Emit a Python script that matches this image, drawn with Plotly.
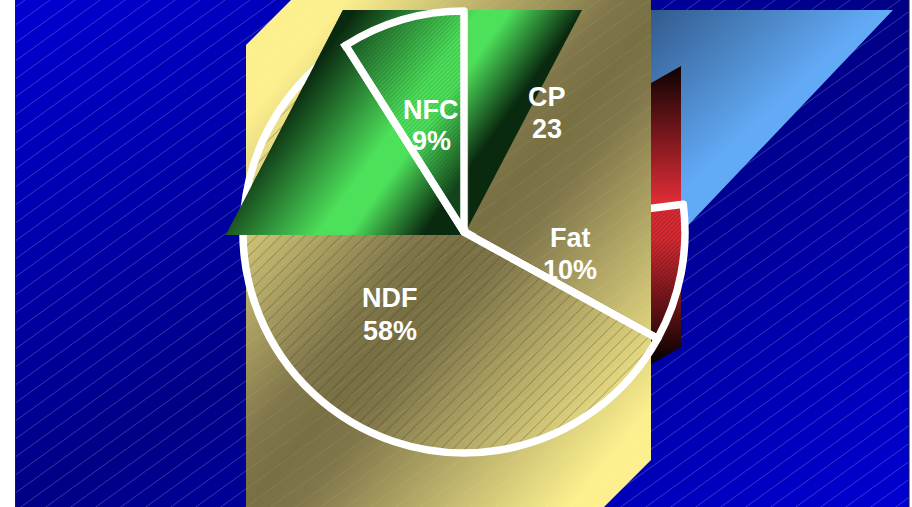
import base64
import math
import plotly.graph_objects as go

# ---- data ----
SLICE_NAMES = ["CP", "Fat", "NDF", "NFC"]
SLICE_VALUES = [23, 10, 58, 9]
SLICE_TEXT = ["23", "10%", "58%", "9%"]

# ---- layout / style ----
W, H = 912, 507
CX, CY, R = 464, 232, 221
STROKE = 7.5
LABEL_POS = {"CP": (547, 97, 129), "Fat": (570, 238, 270),
             "NDF": (390, 298, 331), "NFC": (431, 110, 141)}


def pt(deg, r=R):
    a = math.radians(deg)
    return CX + r * math.sin(a), CY - r * math.cos(a)


def wedge(a0, a1, r=R):
    x0, y0 = pt(a0, r)
    x1, y1 = pt(a1, r)
    big = 1 if a1 - a0 > 180 else 0
    return f"M{CX} {CY}L{x0:.2f} {y0:.2f}A{r} {r} 0 {big} 1 {x1:.2f} {y1:.2f}Z"


total = sum(SLICE_VALUES)
angles = [0]
for v in SLICE_VALUES:
    angles.append(angles[-1] + 360 * v / total)
NDF_PATH = wedge(angles[2], angles[3])
NFC_PATH = wedge(angles[3], angles[4])
far = " ".join(f"{x:.1f},{y:.1f}" for x, y in
               [(CX, CY)] + [pt(angles[0] + (angles[2] - angles[0]) * i / 6, 1200) for i in range(7)])

HATCH_LINE = "M-5 21.6L30 -3.6M-5 3.6L5 -3.6M20 21.6L30 14.4"
DEFS = f"""
<defs>
<linearGradient id="bg" gradientUnits="userSpaceOnUse" x1="245" y1="-130" x2="679" y2="636">
 <stop offset="0" stop-color="#0000d2"/><stop offset=".5" stop-color="#000086"/><stop offset="1" stop-color="#0000d2"/>
</linearGradient>
<linearGradient id="sky" gradientUnits="userSpaceOnUse" x1="640" y1="20" x2="745" y2="135">
 <stop offset="0" stop-color="#315a8c"/><stop offset="1" stop-color="#62aaf6"/>
</linearGradient>
<linearGradient id="red" gradientUnits="userSpaceOnUse" x1="666" y1="70" x2="666" y2="360">
 <stop offset="0" stop-color="#120303"/><stop offset=".45" stop-color="#dc2c36"/><stop offset=".58" stop-color="#d62b34"/><stop offset="1" stop-color="#0a0101"/>
</linearGradient>
<linearGradient id="gold" gradientUnits="userSpaceOnUse" x1="268" y1="90" x2="652" y2="410">
 <stop offset="0" stop-color="#fcf08e"/><stop offset=".42" stop-color="#80764a"/><stop offset=".5" stop-color="#787042"/><stop offset=".58" stop-color="#80764a"/><stop offset="1" stop-color="#fcf08e"/>
</linearGradient>
<linearGradient id="green" gradientUnits="userSpaceOnUse" x1="332" y1="43" x2="482" y2="151">
 <stop offset="0" stop-color="#0a2a10"/><stop offset=".54" stop-color="#4de05a"/><stop offset=".68" stop-color="#4de05a"/><stop offset="1" stop-color="#0a2a10"/>
</linearGradient>
<pattern id="hatch" patternUnits="userSpaceOnUse" width="25" height="18">
 <path d="{HATCH_LINE}" stroke="#ffffff" stroke-opacity=".3" stroke-width=".7" fill="none"/>
</pattern>
<pattern id="hatchgold" patternUnits="userSpaceOnUse" width="25" height="18">
 <path d="{HATCH_LINE}" stroke="#ffffff" stroke-opacity=".1" stroke-width=".7" fill="none"/>
</pattern>
<mask id="goldmask" maskUnits="userSpaceOnUse" x="0" y="0" width="{W}" height="{H}">
 <polygon points="{far}" fill="#fff"/>
 <path d="{NDF_PATH}" fill="#000" stroke="#000" stroke-width="{STROKE + 1}"/>
 <path d="{NFC_PATH}" fill="#000" stroke="#000" stroke-width="{STROKE + 1}"/>
</mask>
<mask id="greenmask" maskUnits="userSpaceOnUse" x="0" y="0" width="{W}" height="{H}">
 <rect width="{W}" height="{H}" fill="#fff"/>
 <path d="{NFC_PATH}" fill="#000" stroke="#000" stroke-width="{STROKE + 1}"/>
</mask>
</defs>
"""

GOLD = '<polygon points="246,45 291,0 651,0 651,460 604,507 246,507" fill="{}"/>'
GREEN = '<polygon points="343,10 582,10 464,235 226,235" fill="url(#green)"/>'


def svg_uri(body):
    s = (f'<svg xmlns="http://www.w3.org/2000/svg" width="{W}" height="{H}" '
         f'viewBox="0 0 {W} {H}">{DEFS}{body}</svg>')
    return "data:image/svg+xml;base64," + base64.b64encode(s.encode()).decode()


below = f"""
<rect x="15" y="0" width="894" height="507" fill="url(#bg)"/>
<rect x="15" y="0" width="894" height="507" fill="url(#hatch)"/>
<rect x="15" y="0" width="1" height="507" fill="#1a1a40"/>
<rect x="908.5" y="0" width="1" height="507" fill="#1a1a40"/>
<polygon points="600,10 893,10 600,318" fill="url(#sky)"/>
<polygon points="600,112 681,66 681,347 600,394" fill="url(#red)"/>
{GOLD.format('url(#gold)')}{GOLD.format('url(#hatchgold)')}
{GREEN}
"""
above = f"""
<g mask="url(#goldmask)">{GOLD.format('url(#gold)')}{GOLD.format('url(#hatchgold)')}</g>
<g mask="url(#greenmask)">{GREEN}</g>
"""


def image(uri, layer):
    return dict(source=uri, xref="paper", yref="paper", x=0, y=1, sizex=1, sizey=1,
                xanchor="left", yanchor="top", sizing="stretch", layer=layer)


clear = "rgba(0,0,0,0)"
nfc_tint = "rgba(77,224,90,.15)"
fig = go.Figure(go.Pie(
    labels=SLICE_NAMES,
    values=SLICE_VALUES,
    sort=False,
    direction="clockwise",
    rotation=0,
    textinfo="none",
    hoverinfo="skip",
    showlegend=False,
    domain=dict(x=[(CX - R) / W, (CX + R) / W], y=[1 - (CY + R) / H, 1 - (CY - R) / H]),
    marker=dict(
        colors=[clear, clear, clear, nfc_tint],
        line=dict(color=["rgba(255,255,255,0)", "#ffffff", "#ffffff", "#ffffff"],
                  width=[0, STROKE, STROKE, STROKE]),
        pattern=dict(
            shape=["", "/", "/", "/"],
            size=[8, 3, 8.5, 3],
            solidity=[0.1, 0.3, 0.1, 0.3],
            fgcolor=["rgba(0,0,0,0)", "rgba(60,0,0,.3)", "rgba(45,40,15,.42)", "rgba(0,40,10,.22)"],
            bgcolor=[clear, clear, clear, nfc_tint],
        ),
    ),
))

annotations = []
for name, text in zip(SLICE_NAMES, SLICE_TEXT):
    x, y1, y2 = LABEL_POS[name]
    for line, y in ((name, y1), (text, y2)):
        annotations.append(dict(
            text=line, xref="paper", yref="paper", x=x / W, y=1 - y / H,
            xanchor="center", yanchor="middle", showarrow=False,
            font=dict(family="Liberation Sans", size=27, color="#ffffff", weight="bold"),
        ))

fig.update_layout(
    width=W, height=H, margin=dict(l=0, r=0, t=0, b=0),
    paper_bgcolor="#ffffff", plot_bgcolor="#ffffff",
    images=[image(svg_uri(below), "below"), image(svg_uri(above), "above")],
    annotations=annotations,
)

fig.write_html(
    "out.html",
    config=dict(displayModeBar=False, staticPlot=True),
    post_script="document.body.style.margin='0';document.body.style.overflow='hidden';",
)
